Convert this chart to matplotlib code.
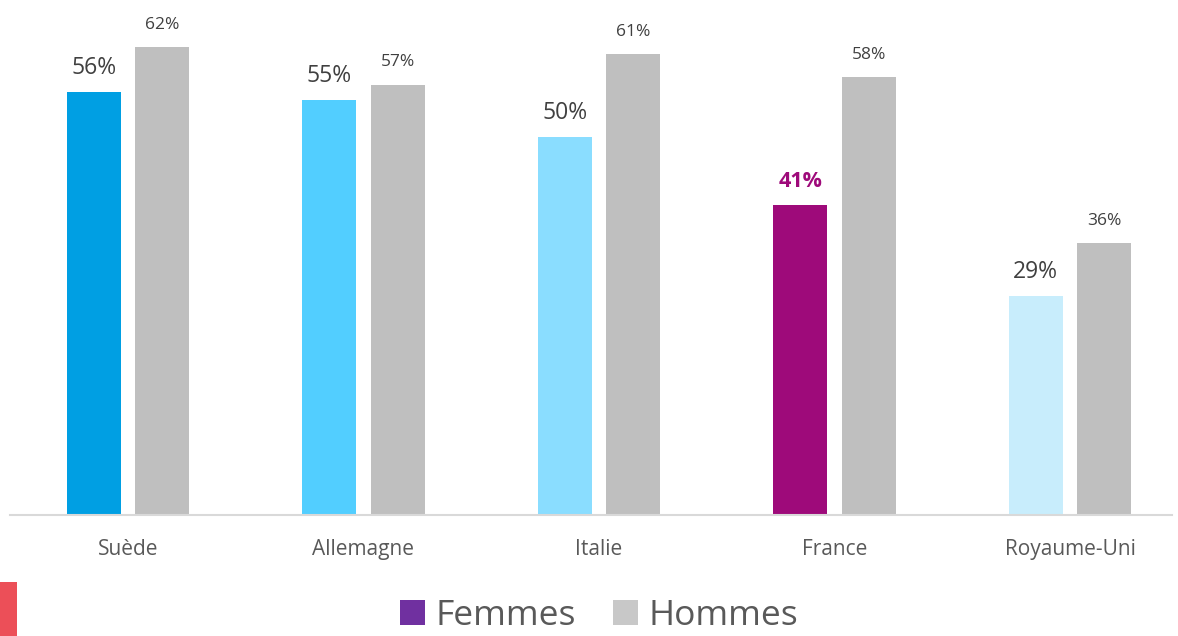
import matplotlib
matplotlib.use("Agg")
import matplotlib.pyplot as plt
from matplotlib.patches import Patch, Rectangle
import numpy as np

plt.rcParams['font.family'] = ['Open Sans', 'DejaVu Sans']

categories = ["Suède", "Allemagne", "Italie", "France", "Royaume-Uni"]
femmes = [56, 55, 50, 41, 29]
hommes = [62, 57, 61, 58, 36]
femmes_colors = ["#009FE3", "#52CEFF", "#8ADDFF", "#9E0A7A", "#C8EDFC"]
hommes_color = "#BFBFBF"
legend_labels = ["Femmes", "Hommes"]
legend_colors = ["#7030A0", "#C8C8C8"]

fig = plt.figure(figsize=(11.78, 6.36), dpi=100)
ax = fig.add_axes([10/1178, 1-515/636, 1162/1178, 515/636])

x = np.arange(len(categories))
w = 0.229
off = 0.1455
bf = ax.bar(x - off, femmes, w, color=femmes_colors)
bh = ax.bar(x + off, hommes, w, color=hommes_color)

ax.set_xlim(-0.501, 4.433)
ax.set_ylim(0, 68.2)

for i, (rect, v) in enumerate(zip(bf, femmes)):
    is_fr = categories[i] == "France"
    ax.annotate(f"{v}%", (rect.get_x() + rect.get_width()/2, v),
                xytext=(0, 17.3), textcoords="offset points",
                ha="center", va="center", fontsize=16.5 if not is_fr else 15.5,
                color="#9E0A7A" if is_fr else "#404040",
                fontweight="bold" if is_fr else "normal")
for rect, v in zip(bh, hommes):
    ax.annotate(f"{v}%", (rect.get_x() + rect.get_width()/2, v),
                xytext=(0, 16), textcoords="offset points",
                ha="center", va="center", fontsize=12.5, color="#404040")

for s in ["top", "right", "left"]:
    ax.spines[s].set_visible(False)
ax.spines["bottom"].set_color("#D9D9D9")
ax.spines["bottom"].set_linewidth(1.5)
ax.set_yticks([])
ax.set_xticks(x)
ax.set_xticklabels(categories, fontsize=15, color="#595959")
ax.tick_params(axis="x", length=0, pad=17)

handles = [Patch(facecolor=c, edgecolor="none") for c in legend_colors]
fig.legend(handles, legend_labels, loc="lower center", bbox_to_anchor=(599/1178, -0.045),
           ncol=2, frameon=False, fontsize=25.5, handlelength=0.7, handleheight=0.7,
           handletextpad=0.3, columnspacing=1.05, labelcolor="#595959")

fig.patches.append(Rectangle((0, 0), 17/1178, 54/636, transform=fig.transFigure,
                             facecolor="#EC4F58", edgecolor="none"))

fig.savefig("out.png", dpi=100)
